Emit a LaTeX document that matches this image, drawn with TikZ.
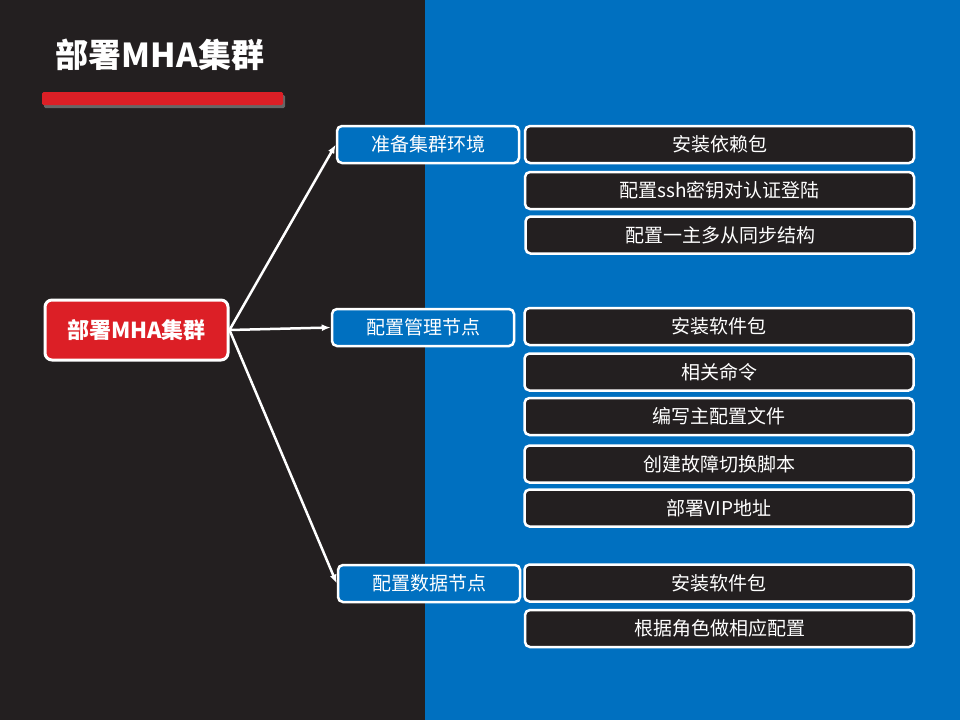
\documentclass[tikz,border=0pt]{standalone}
\usepackage{fontspec}
\setmainfont{Noto Sans CJK SC}
\usetikzlibrary{arrows.meta}
\definecolor{dark}{HTML}{231F20}
\definecolor{blue}{HTML}{0070C0}
\definecolor{red}{HTML}{DC1F26}
\tikzset{
  root/.style={draw=white, line width=3pt, fill=red, rounded corners=7pt,
    minimum width=183pt, minimum height=60pt, text=white, font=\fontsize{22}{26}\selectfont\bfseries},
  lvl/.style={draw=white, line width=2.5pt, fill=blue, rounded corners=5pt,
    minimum width=182pt, minimum height=37pt, text=white, font=\fontsize{19}{23}\selectfont},
  item/.style={draw=white, line width=2.5pt, fill=dark, rounded corners=5pt,
    minimum width=389pt, minimum height=37pt, text=white, font=\fontsize{19}{23}\selectfont},
  link/.style={-{Latex[length=9pt,width=7pt]}, line width=2.5pt, draw=white}
}
\begin{document}
\begin{tikzpicture}[x=1pt,y=-1pt]
  \useasboundingbox (0,0) rectangle (960,720);
  \fill[dark] (0,0) rectangle (425,720);
  \fill[blue] (425,0) rectangle (960,720);

  % title
  \node[text=white, font=\fontsize{33}{38}\selectfont\bfseries] (title) at (160,55) {部署MHA集群};
  \fill[black!60, rounded corners=1.5pt] (44,95) rectangle (285,108);
  \fill[red, rounded corners=1.5pt] (42,92) rectangle (283,105);

  \node[root] (mha) at (136.5,330) {部署MHA集群};

  \node[lvl] (prep) at (428,144.5) {准备集群环境};
  \node[lvl] (mgr) at (423,327.5) {配置管理节点};
  \node[lvl] (data) at (429,583.5) {配置数据节点};

  \draw[link] (mha.east) -- (prep.west);
  \draw[link] (mha.east) -- (mgr.west);
  \draw[link] (mha.east) -- (data.west);

  \node[item] (p1) at (719.5,144.5) {安装依赖包};
  \node[item] (p2) at (719.5,190.5) {配置ssh密钥对认证登陆};
  \node[item] (p3) at (720,235) {配置一主多从同步结构};

  \node[item] (m1) at (719,326.5) {安装软件包};
  \node[item] (m2) at (719,372) {相关命令};
  \node[item] (m3) at (719,416.5) {编写主配置文件};
  \node[item] (m4) at (719,464) {创建故障切换脚本};
  \node[item] (m5) at (719,508) {部署VIP地址};

  \node[item] (d1) at (719,583) {安装软件包};
  \node[item] (d2) at (719.5,628.5) {根据角色做相应配置};
\end{tikzpicture}
\end{document}
